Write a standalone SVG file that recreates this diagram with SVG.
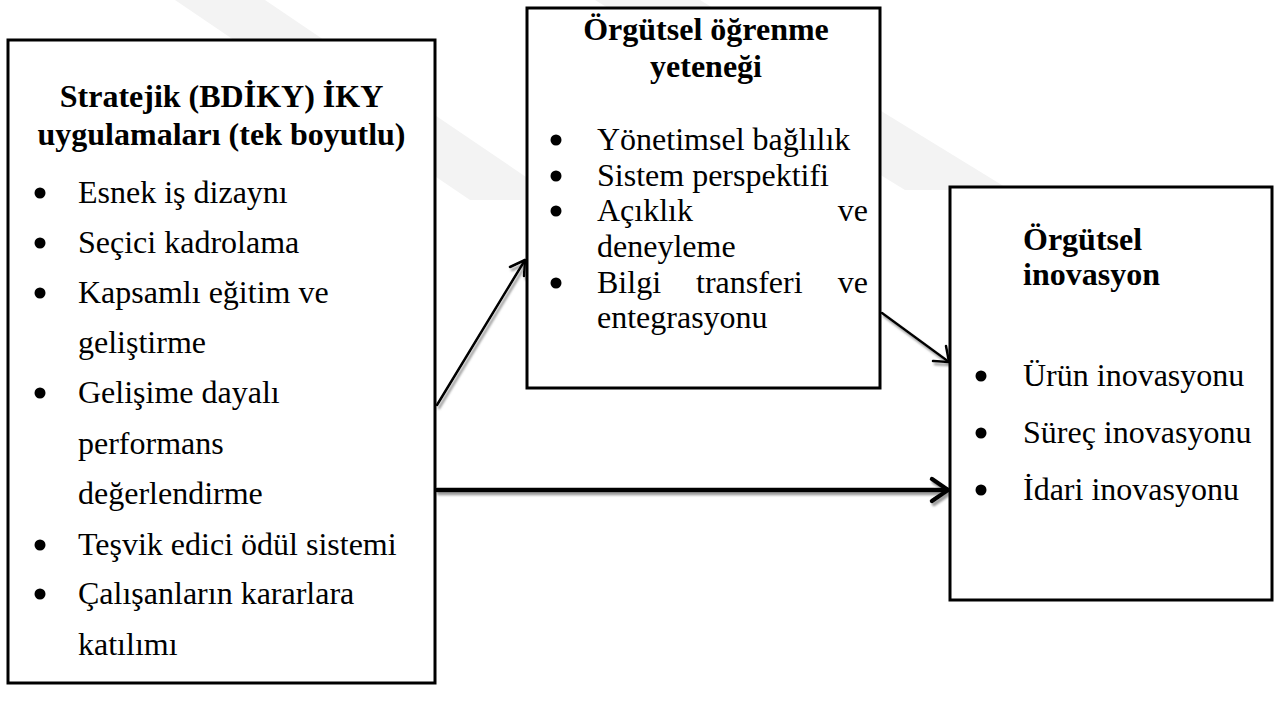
<svg xmlns="http://www.w3.org/2000/svg" width="1280" height="713" viewBox="0 0 1280 713">
  <style>
    .box { fill: #ffffff; stroke: #000000; stroke-width: 3; }
    .title { font-family: "Liberation Serif", "Times New Roman", serif; font-size: 32px; font-weight: bold; fill: #000; }
    .item { font-family: "Liberation Serif", "Times New Roman", serif; font-size: 32px; fill: #000; }
    .dot { fill: #000; }
    .wm { fill: #f3f3f3; }
    .conn { fill: none; stroke: #000; stroke-linecap: round; stroke-linejoin: round; }
  </style>
  <defs>
    <filter id="shadow" x="-10%" y="-10%" width="130%" height="140%">
      <feDropShadow dx="2" dy="3" stdDeviation="1" flood-color="#707070" flood-opacity="0.7"/>
    </filter>
  </defs>

  <rect width="1280" height="713" fill="#ffffff"/>

  <!-- faint background mark -->
  <g id="background-mark">
    <polygon class="wm" points="175,0 265,0 560,200 470,200"/>
    <polygon class="wm" points="595,0 700,0 1010,190 905,190"/>
  </g>

  <!-- connectors -->
  <g id="connectors" filter="url(#shadow)">
    <path class="conn" stroke-width="2.5" d="M437,405 L525,260"/>
    <path class="conn" stroke-width="2.5" d="M510,267 L525,260 L524,276"/>
    <path class="conn" stroke-width="2.5" d="M882,313 L949,362"/>
    <path class="conn" stroke-width="2.5" d="M933,361 L949,362 L946,346"/>
    <path class="conn" stroke-width="4.5" d="M437,490 L948,490"/>
    <path class="conn" stroke-width="4.5" d="M932,479 L948,490 L932,501"/>
  </g>

  <!-- left node -->
  <g id="node-strategic-hrm">
    <rect class="box" x="8" y="40" width="427" height="643"/>
    <text class="title" x="221.5" y="107" text-anchor="middle">Stratejik (BDİKY) İKY</text>
    <text class="title" x="221.5" y="145" text-anchor="middle">uygulamaları (tek boyutlu)</text>
    <circle class="dot" cx="40" cy="193" r="5.5"/>
    <text class="item" x="78" y="203">Esnek iş dizaynı</text>
    <circle class="dot" cx="40" cy="243" r="5.5"/>
    <text class="item" x="78" y="253">Seçici kadrolama</text>
    <circle class="dot" cx="40" cy="293" r="5.5"/>
    <text class="item" x="78" y="303">Kapsamlı eğitim ve</text>
    <text class="item" x="78" y="353">geliştirme</text>
    <circle class="dot" cx="40" cy="393" r="5.5"/>
    <text class="item" x="78" y="403">Gelişime dayalı</text>
    <text class="item" x="78" y="454">performans</text>
    <text class="item" x="78" y="504">değerlendirme</text>
    <circle class="dot" cx="40" cy="545" r="5.5"/>
    <text class="item" x="78" y="555">Teşvik edici ödül sistemi</text>
    <circle class="dot" cx="40" cy="594" r="5.5"/>
    <text class="item" x="78" y="604">Çalışanların kararlara</text>
    <text class="item" x="78" y="655">katılımı</text>
  </g>

  <!-- middle node -->
  <g id="node-learning-capability">
    <rect class="box" x="527" y="8" width="353" height="380"/>
    <text class="title" x="706" y="40" text-anchor="middle">Örgütsel öğrenme</text>
    <text class="title" x="706" y="77" text-anchor="middle">yeteneği</text>
    <circle class="dot" cx="556" cy="140" r="5.5"/>
    <text class="item" x="597" y="150">Yönetimsel bağlılık</text>
    <circle class="dot" cx="556" cy="176" r="5.5"/>
    <text class="item" x="597" y="186">Sistem perspektifi</text>
    <circle class="dot" cx="556" cy="211" r="5.5"/>
    <text class="item" x="597" y="221">Açıklık</text>
    <text class="item" x="868" y="221" text-anchor="end">ve</text>
    <text class="item" x="597" y="257">deneyleme</text>
    <circle class="dot" cx="556" cy="283" r="5.5"/>
    <text class="item" x="597" y="293">Bilgi</text>
    <text class="item" x="696" y="293">transferi</text>
    <text class="item" x="868" y="293" text-anchor="end">ve</text>
    <text class="item" x="597" y="328">entegrasyonu</text>
  </g>

  <!-- right node -->
  <g id="node-innovation">
    <rect class="box" x="950" y="187" width="322" height="413"/>
    <text class="title" x="1023" y="250">Örgütsel</text>
    <text class="title" x="1023" y="285">inovasyon</text>
    <circle class="dot" cx="981" cy="376" r="5.5"/>
    <text class="item" x="1023" y="386">Ürün inovasyonu</text>
    <circle class="dot" cx="981" cy="433" r="5.5"/>
    <text class="item" x="1023" y="443">Süreç inovasyonu</text>
    <circle class="dot" cx="981" cy="490" r="5.5"/>
    <text class="item" x="1023" y="500">İdari inovasyonu</text>
  </g>
</svg>
